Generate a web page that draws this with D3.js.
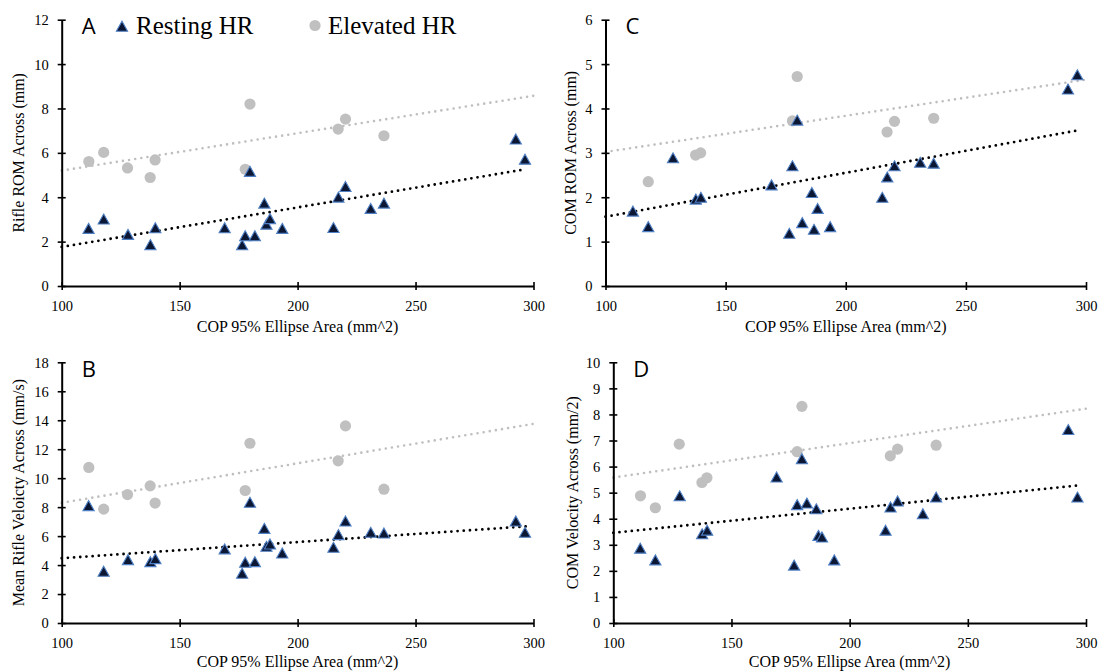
<!DOCTYPE html>
<html><head><meta charset="utf-8">
<script src="https://cdn.jsdelivr.net/npm/d3@7"></script>
<style>
html,body{margin:0;padding:0;background:#fff;}
svg{display:block;}
</style></head>
<body>
<svg id="chart" width="1100" height="672"></svg>
<script>
// ---- Data ----
const restCop = [111.4, 117.8, 128.1, 137.6, 139.7, 169.1, 176.5, 177.8, 179.8, 181.9, 185.9, 186.8, 188.3, 193.5, 215.2, 217.3, 220.3, 231.0, 236.6, 292.5, 296.4];
const elevCop = [111.5, 117.8, 127.9, 137.5, 139.6, 177.8, 179.8, 217.2, 220.3, 236.6];

const restA = [2.56, 2.98, 2.29, 1.83, 2.59, 2.59, 1.82, 2.23, 5.13, 2.23, 3.70, 2.75, 3.00, 2.56, 2.60, 3.97, 4.45, 3.46, 3.70, 6.59, 5.68];
const elevA = [5.61, 6.02, 5.32, 4.89, 5.68, 5.26, 8.20, 7.07, 7.52, 6.77];
const restB = [8.05, 3.52, 4.32, 4.18, 4.39, 5.06, 3.38, 4.14, 8.28, 4.18, 6.48, 5.24, 5.40, 4.78, 5.17, 6.05, 6.99, 6.21, 6.16, 6.99, 6.21];
const elevB = [10.74, 7.86, 8.87, 9.47, 8.28, 9.15, 12.41, 11.20, 13.61, 9.24];
const restC = [1.67, 1.32, 2.87, 1.94, 1.98, 2.26, 1.17, 2.69, 3.72, 1.41, 2.09, 1.26, 1.73, 1.32, 1.98, 2.44, 2.69, 2.77, 2.75, 4.42, 4.74];
const elevC = [null, 2.35, null, 2.95, 3.00, 3.72, 4.72, 3.47, 3.71, 3.78];
const restD = [2.84, 2.39, 4.85, 3.39, 3.53, 5.57, 2.19, 4.51, 6.27, 4.57, 4.35, 3.33, 3.27, 2.39, 3.53, 4.42, 4.65, 4.16, 4.80, 7.39, 4.80];
const elevD = [4.88, 4.42, 6.86, 5.39, 5.57, 6.57, 8.31, 6.41, 6.67, 6.82];

// trend lines: [x0, y0, x1, y1]
const trendRestA = [100, 1.76, 295, 5.23];
const trendElevA = [100, 5.20, 300, 8.57];
const trendRestB = [100, 4.47, 297, 6.67];
const trendElevB = [100, 8.30, 300, 13.75];
const trendRestC = [100, 1.56, 296, 3.50];
const trendElevC = [100, 3.02, 300, 4.65];
const trendRestD = [100, 3.46, 296, 5.27];
const trendElevD = [100, 5.58, 300, 8.22];

const xTicks = [100, 150, 200, 250, 300];
const yTicksA = [0, 2, 4, 6, 8, 10, 12];
const yTicksB = [0, 2, 4, 6, 8, 10, 12, 14, 16, 18];
const yTicksC = [0, 1, 2, 3, 4, 5, 6];
const yTicksD = [0, 1, 2, 3, 4, 5, 6, 7, 8, 9, 10];

const xTitle = "COP 95% Ellipse Area (mm^2)";
const yTitles = {A: "Rifle ROM Across (mm)", B: "Mean Rifle Veloicty Across (mm/s)", C: "COM ROM Across (mm)", D: "COM Velocity Across (mm/2)"};
const legendLabels = ["Resting HR", "Elevated HR"];

// ---- Layout ----
const panels = [
  {id: "A", rest: restA, elev: elevA, tr: trendRestA, te: trendElevA, yt: yTicksA, x0: 61.7, x1: 533.5, y0: 286, y1: 19.7, ytx: 19, xtb: 332},
  {id: "B", rest: restB, elev: elevB, tr: trendRestB, te: trendElevB, yt: yTicksB, x0: 61.7, x1: 533.5, y0: 623, y1: 362.3, ytx: 19, xtb: 666.5},
  {id: "C", rest: restC, elev: elevC, tr: trendRestC, te: trendElevC, yt: yTicksC, x0: 605.5, x1: 1086, y0: 286, y1: 19.7, ytx: 571, xtb: 332},
  {id: "D", rest: restD, elev: elevD, tr: trendRestD, te: trendElevD, yt: yTicksD, x0: 613.3, x1: 1086, y0: 623, y1: 362.3, ytx: 573, xtb: 666.5}
];

const serif = "'Liberation Serif','Times New Roman',serif";
const svg = d3.select("#chart");
const triPath = "M0,-5.8L5.6,4.2L-5.6,4.2Z";
const triFill = "#0c1734", triStroke = "#4f7fc4";
const circFill = "#c0c0c0";

panels.forEach(p => {
  const x = d3.scaleLinear().domain([100, 300]).range([p.x0, p.x1]);
  const y = d3.scaleLinear().domain([0, d3.max(p.yt)]).range([p.y0, p.y1]);
  const g = svg.append("g");

  // trend lines
  const line = d3.line().x(d => x(d[0])).y(d => y(d[1]));
  g.append("path").attr("d", line([[p.te[0], p.te[1]], [p.te[2], p.te[3]]]))
    .attr("fill", "none").attr("stroke", "#bfbfbf").attr("stroke-width", 2.6)
    .attr("stroke-linecap", "round").attr("stroke-dasharray", "0,6.2");
  g.append("path").attr("d", line([[p.tr[0], p.tr[1]], [p.tr[2], p.tr[3]]]))
    .attr("fill", "none").attr("stroke", "#000").attr("stroke-width", 2.8)
    .attr("stroke-linecap", "round").attr("stroke-dasharray", "0,6.2");

  // axes
  const ax = g.append("g").attr("transform", `translate(0,${p.y0})`)
    .call(d3.axisBottom(x).tickValues(xTicks).tickSizeOuter(0).tickFormat(d3.format("d")));
  const ay = g.append("g").attr("transform", `translate(${p.x0},0)`)
    .call(d3.axisLeft(y).tickValues(p.yt).tickSizeOuter(0).tickFormat(d3.format("d")));
  [ax, ay].forEach(a => {
    a.select(".domain").attr("stroke", "#000").attr("stroke-width", 2);
    a.selectAll(".tick line").attr("stroke", "#000").attr("stroke-width", 1.6);
    a.selectAll(".tick text").attr("fill", "#000").style("font-family", serif).style("font-size", "14.5px");
  });
  ax.selectAll(".tick line").attr("y1", -4).attr("y2", 4);
  ax.selectAll(".tick text").attr("y", 24.5).attr("dy", 0);
  ay.selectAll(".tick line").attr("x1", -4).attr("x2", 4);
  ay.selectAll(".tick text").attr("x", -13).attr("dy", "0.34em");

  // elevated circles
  const elevPts = elevCop.map((c, i) => [c, p.elev[i]]).filter(d => d[1] != null);
  g.selectAll("circle.e").data(elevPts).join("circle")
    .attr("cx", d => x(d[0])).attr("cy", d => y(d[1])).attr("r", 5.6)
    .attr("fill", circFill);

  // resting triangles
  const restPts = restCop.map((c, i) => [c, p.rest[i]]);
  g.selectAll("path.r").data(restPts).join("path")
    .attr("d", triPath).attr("transform", d => `translate(${x(d[0])},${y(d[1])})`)
    .attr("fill", triFill).attr("stroke", triStroke).attr("stroke-width", 1.1);

  // titles
  g.append("text").attr("x", (p.x0 + p.x1) / 2).attr("y", p.xtb)
    .attr("text-anchor", "middle").style("font-family", serif).style("font-size", "16px")
    .text(xTitle);
  g.append("text").attr("transform", `translate(${p.ytx},${(p.y0 + p.y1) / 2}) rotate(-90)`)
    .attr("text-anchor", "middle").attr("dy", "0.32em").style("font-family", serif).style("font-size", "16px")
    .text(yTitles[p.id]);

  // panel letter
  g.append("text").attr("x", p.x0 + 20).attr("y", p.y1 + 14.6)
    .style("font-family", "'Open Sans','Noto Sans',sans-serif").style("font-size", "22px")
    .text(p.id);
});

// legend (panel A)
const lg = svg.append("g");
lg.append("path").attr("d", triPath).attr("transform", "translate(122,27)")
  .attr("fill", triFill).attr("stroke", triStroke).attr("stroke-width", 1.1);
lg.append("text").attr("x", 136).attr("y", 34).style("font-family", serif).style("font-size", "25px").text(legendLabels[0]);
lg.append("circle").attr("cx", 315).attr("cy", 25.5).attr("r", 5.6).attr("fill", circFill);
lg.append("text").attr("x", 328).attr("y", 34).style("font-family", serif).style("font-size", "25px").text(legendLabels[1]);
</script>
</body></html>
